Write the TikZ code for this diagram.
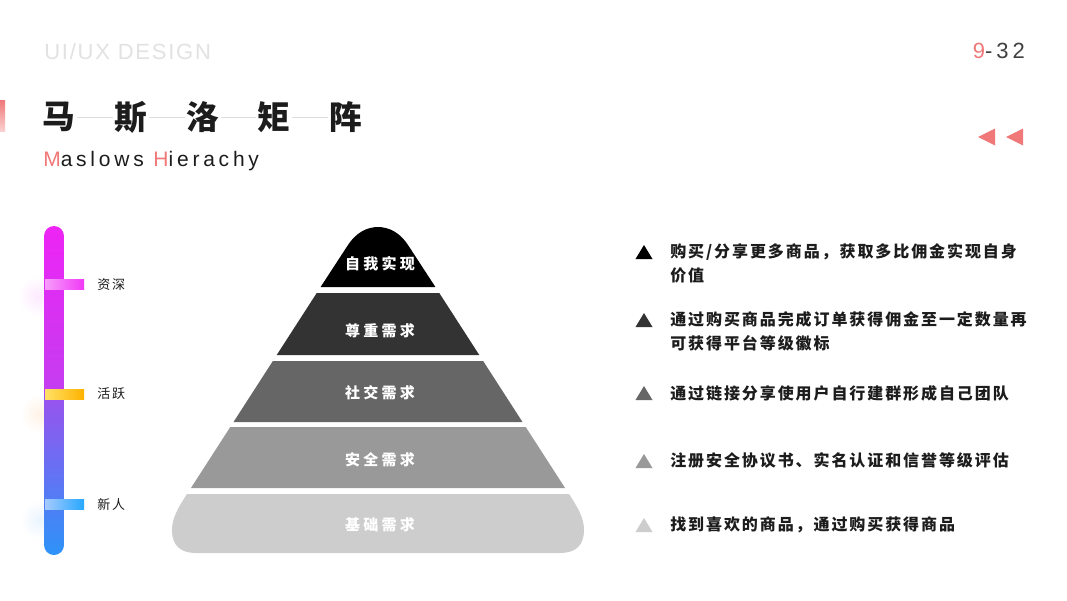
\documentclass[tikz,border=0pt]{standalone}
\usepackage{fontspec}
\usepackage{xcolor}
\usepackage{tikz}
\usetikzlibrary{positioning}
\setmainfont{Liberation Sans}
\newfontfamily\cjk{Noto Sans CJK SC}
\newfontfamily\cjkwide{Noto Sans CJK SC}[LetterSpace=12]
\newfontfamily\cjklbl{Noto Sans CJK SC}[LetterSpace=22]
\newfontfamily\cjktag{Noto Sans CJK SC}[LetterSpace=15]
\newfontfamily\latwide{Liberation Sans}[LetterSpace=8]
\newfontfamily\latwider{Liberation Sans}[LetterSpace=18]
\definecolor{pinkc}{HTML}{F07878}
\definecolor{fadet}{HTML}{E2E2E2}
\definecolor{inkc}{HTML}{1C1C1C}
\definecolor{numc}{HTML}{404040}
\definecolor{rulec}{HTML}{DEDEDE}
\definecolor{lay1}{HTML}{000000}
\definecolor{lay2}{HTML}{333333}
\definecolor{lay3}{HTML}{666666}
\definecolor{lay4}{HTML}{999999}
\definecolor{lay5}{HTML}{CDCDCD}
\definecolor{barm}{HTML}{EE24F5}
\definecolor{barp}{HTML}{C33EF0}
\definecolor{barv}{HTML}{9A52EE}
\definecolor{barb}{HTML}{2D93F8}
\tikzset{
  tchar/.style={font=\cjk\bfseries\fontsize{24.5}{26}\selectfont,inner sep=1pt,text=inkc},
  lvl/.style={font=\cjklbl\bfseries\fontsize{11.25}{13}\selectfont,text=white,inner sep=0pt},
  itm/.style={font=\cjkwide\bfseries\fontsize{12}{18}\selectfont,text=inkc,align=left,anchor=west,inner sep=0pt},
  tag/.style={font=\cjktag\fontsize{9.75}{11}\selectfont,text=inkc,anchor=west,inner sep=0pt}
}
% one slab of the pyramid: top y, bottom y, colour
\newcommand{\slab}[3]{\fill[#3] ({378-0.645*(#1-198)},#1)--({378+0.645*(#1-198)},#1)
  --({378+0.645*(#2-198)},#2)--({378-0.645*(#2-198)},#2)--cycle;}
% bullet triangle at x, y, colour
\newcommand{\bul}[3]{\fill[#3] (#1-8.5,#2+7)--(#1+8.5,#2+7)--(#1,#2-7)--cycle;}

\begin{document}
\begin{tikzpicture}[x=0.75pt,y=-0.75pt]
\useasboundingbox (0,0) rectangle (1067,600);
\fill[white] (0,0) rectangle (1067,600);

% header
\node[font=\latwide\fontsize{16.5}{18}\selectfont,text=fadet,anchor=west,inner sep=0pt] (hdr) at (44,52) {UI/UX DESIGN};
\node[font=\latwider\fontsize{16.5}{18}\selectfont,anchor=east,inner sep=0pt] (pg) at (1025,51) {\textcolor{pinkc}{9}\textcolor{numc}{-32}};
\shade[top color=pinkc,bottom color=pinkc!35] (0,100) rectangle (5,131);
\fill[pinkc] (978,137)--(995,128.5)--(995,145.5)--cycle;
\fill[pinkc] (1006,137)--(1023,128.5)--(1023,145.5)--cycle;

% title
\node[tchar] (t1) at (59,117) {马};
\node[tchar] (t2) at (131,117) {斯};
\node[tchar] (t3) at (203,117) {洛};
\node[tchar] (t4) at (274,117) {矩};
\node[tchar] (t5) at (346,117) {阵};
\foreach \a/\b in {t1/t2,t2/t3,t3/t4,t4/t5}
  \draw[rulec,line width=0.6pt] (\a.east) -- (\b.west);
\node[font=\latwider\fontsize{15.75}{17}\selectfont,text=inkc,anchor=west,inner sep=0pt] (sub) at (43,161)
  {\textcolor{pinkc}{M}aslows \textcolor{pinkc}{H}ierachy};

% level bar
\shade[inner color=barm!10,outer color=white] (38,296) circle (20);
\shade[inner color=orange!10,outer color=white] (40,414) circle (20);
\shade[inner color=barb!10,outer color=white] (40,520) circle (20);
\begin{scope}
  \clip[rounded corners=7.5pt] (44,226) rectangle (64,555);
  \shade[top color=barm,bottom color=barp] (44,226) rectangle (64,395);
  \shade[top color=barv,bottom color=barb] (44,394) rectangle (64,555);
\end{scope}
\shade[left color=barm!45,right color=barm!90] (45,279) rectangle (84,289);
\shade[left color=orange!40!yellow!60,right color=orange!60!yellow] (45,389) rectangle (84,399);
\shade[left color=cyan!40!blue!35,right color=cyan!60!blue!85] (45,499) rectangle (84,509);
\node[tag] (k1) at (97,285) {资深};
\node[tag] (k2) at (97,394) {活跃};
\node[tag] (k3) at (97,504) {新人};

% pyramid
\fill[lay1] (320.6,287)--(348,245) .. controls (363.4,221) and (392.6,221) .. (408,245)--(435.4,287)--cycle;
\slab{293}{355}{lay2}
\slab{361}{422}{lay3}
\slab{427}{488}{lay4}
\fill[lay5] (187,494)--(569,494) .. controls (578,508) and (584,518) .. (584,530)
  .. controls (584,546) and (575,553) .. (560,553)--(196,553)
  .. controls (181,553) and (172,546) .. (172,530) .. controls (172,518) and (178,508) .. (187,494)--cycle;
\node[lvl] (lv1) at (380,264) {自我实现};
\node[lvl] (lv2) at (380,331) {尊重需求};
\node[lvl] (lv3) at (380,393) {社交需求};
\node[lvl] (lv4) at (380,460) {安全需求};
\node[lvl] (lv5) at (380,525) {基础需求};

% list
\bul{644}{252}{lay1}
\bul{644}{320}{lay2}
\bul{644}{393}{lay3}
\bul{644}{461}{lay4}
\bul{644}{525}{lay5}
\node[itm] (i1) at (670,263) {购买/分享更多商品，获取多比佣金实现自身\\价值};
\node[itm] (i2) at (670,331.5) {通过购买商品完成订单获得佣金至一定数量再\\可获得平台等级徽标};
\node[itm] (i3) at (670,393) {通过链接分享使用户自行建群形成自己团队};
\node[itm] (i4) at (670,460) {注册安全协议书、实名认证和信誉等级评估};
\node[itm] (i5) at (670,525) {找到喜欢的商品，通过购买获得商品};
\end{tikzpicture}
\end{document}
